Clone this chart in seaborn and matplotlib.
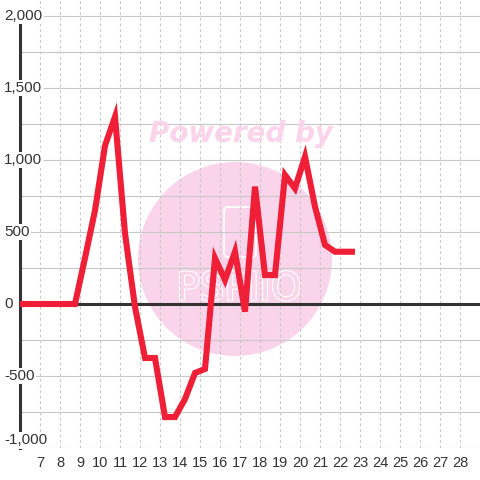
import matplotlib
matplotlib.use("Agg")
import matplotlib.pyplot as plt
import matplotlib.patches as mpatches
import matplotlib.patheffects as pe
from matplotlib.transforms import blended_transform_factory
import seaborn as sns
import pandas as pd

# ---- data ----
hours = [6, 8.75, 9.25, 9.75, 10.25, 10.75, 11.25, 11.75, 12.25, 12.75, 13.25, 13.75,
         14.25, 14.75, 15.25, 15.75, 16.25, 16.75, 17.25, 17.75, 18.25, 18.75, 19.25,
         19.75, 20.25, 20.75, 21.25, 21.75, 22.25, 22.75]
values = [0, 0, 320, 650, 1100, 1300, 490, -20, -375, -375, -785, -785,
          -660, -479, -451, 318, 167, 363, -53, 815, 201, 201, 896,
          803, 1023, 676, 410, 363, 363, 363]
x_ticks = list(range(7, 29))
y_label_values = [2000, 1500, 1000, 500, 0, -500, -1000]
y_label_texts = ["2,000", "1,500", "1,000", "500", "0", "-500", "-1,000"]

df = pd.DataFrame({"hour": hours, "value": values})

sns.set_style("white")
plt.rcParams["font.family"] = ["Liberation Sans", "DejaVu Sans"]

fig = plt.figure(figsize=(4.8, 4.8), dpi=100)
ax = fig.add_axes([20 / 480, 1 - 448 / 480, 1 - 20 / 480, 448 / 480])
ax.set_facecolor("white")

ax.set_xlim(6, 29)
ax.set_ylim(-1000, 304 / 0.144)

# watermark
circ = mpatches.Circle((2.35, 4.8 - 2.59), 0.97, transform=fig.dpi_scale_trans,
                       facecolor="#FAD4EA", edgecolor="none", zorder=0.2)
ax.add_patch(circ)
rect = mpatches.FancyBboxPatch((2.24, 4.8 - 2.57), 0.32, 0.50,
                               boxstyle="round,pad=0,rounding_size=0.04",
                               transform=fig.dpi_scale_trans, facecolor="none",
                               edgecolor="white", lw=1.3, zorder=0.3)
ax.add_patch(rect)
ax.text(239 / 480, 1 - 289 / 480, "PSPIIO", transform=fig.transFigure,
        ha="center", va="center", fontsize=28, color="#FAD4EA",
        family="DejaVu Sans", zorder=0.35,
        path_effects=[pe.withStroke(linewidth=1.6, foreground="white")])
ax.text(241 / 480, 1 - 134 / 480, "Powered by", transform=fig.transFigure,
        ha="center", va="center", fontsize=20, fontweight="bold", fontstyle="italic",
        color="#FBD3EA", family="DejaVu Sans", zorder=1)

# grid
for v in range(-1000, 2001, 250):
    if v != 0:
        ax.axhline(v, color="#C8C8C8", lw=0.8, zorder=0.5)
for xv in x_ticks:
    ax.axvline(xv, ymin=0, ymax=1, color="#C8C8C8", lw=0.8, ls=(0, (2.5, 2.5)), zorder=0.5)

ax.axhline(0, color="#333333", lw=2.2, zorder=1.5)

sns.lineplot(data=df, x="hour", y="value", ax=ax, color="#EE1F36", lw=4.4,
             sort=False, estimator=None, zorder=3)
ln = ax.get_lines()[-1]
ln.set_solid_joinstyle("miter")
ln.set_solid_capstyle("butt")

# spines
for s in ["top", "right", "bottom"]:
    ax.spines[s].set_visible(False)
ax.spines["left"].set_bounds(-1000, 2000)
ax.spines["left"].set_linewidth(2.2)
ax.spines["left"].set_color("#333333")
ax.spines["left"].set_zorder(2)

ax.set_xticks(x_ticks)
ax.set_xticklabels([str(t) for t in x_ticks], fontsize=10.5, color="#333333")
ax.tick_params(axis="x", length=0, pad=6)
ax.set_yticks([])
ax.set_xlabel("")
ax.set_ylabel("")

# y labels with white background covering axis/grid
trans = blended_transform_factory(fig.transFigure, ax.transData)
for v, t in zip(y_label_values, y_label_texts):
    va = "center"
    yy = v
    if v == -1000:
        va = "bottom"
        yy = v + 5
    fig.text(4 / 480, yy, t, transform=trans, ha="left", va=va, fontsize=11,
             color="#333333",
             bbox=dict(facecolor="white", edgecolor="none", pad=1.0))

fig.savefig("out.png", dpi=100)
